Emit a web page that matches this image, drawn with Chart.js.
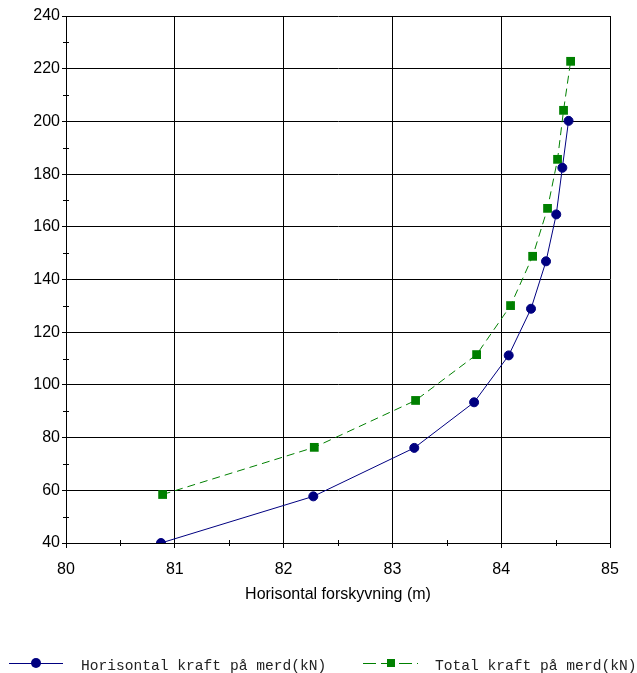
<!DOCTYPE html>
<html><head><meta charset="utf-8">
<script src="https://cdn.jsdelivr.net/npm/chart.js@4/dist/chart.umd.min.js"></script>
<style>
html,body{margin:0;padding:0;background:#fff;width:637px;height:673px;overflow:hidden}
#wrap{position:absolute;left:0;top:0;width:637px;height:673px}
#legend{position:absolute;left:0;top:0;width:637px;height:673px;pointer-events:none}
.lt{position:absolute;top:656px;height:20px;line-height:20px;white-space:nowrap;font-family:"Liberation Mono","Courier New",monospace;font-size:14.6px;color:#222}
.ls{position:absolute;top:653px}
</style></head><body>
<div id="wrap"><canvas id="c" width="637" height="673"></canvas></div>
<div id="legend"></div>
<script>
const seriesNames = ["Horisontal kraft på merd(kN)", "Total kraft på merd(kN)"];
const horisontalX = [80.873, 82.273, 83.201, 83.751, 84.069, 84.274, 84.412, 84.506, 84.562, 84.619];
const horisontalY = [40.0, 57.7, 76.1, 93.4, 111.2, 128.9, 146.9, 164.7, 182.4, 200.2];
const totalX = [80.888, 82.282, 83.213, 83.774, 84.086, 84.289, 84.426, 84.518, 84.573, 84.638];
const totalY = [58.4, 76.3, 94.1, 111.5, 130.1, 148.8, 167.0, 185.6, 204.2, 222.8];
const xTicks = [80, 81, 82, 83, 84, 85];
const yTicks = [40, 60, 80, 100, 120, 140, 160, 180, 200, 220, 240];
const xTitle = "Horisontal forskyvning (m)";

const pts = (xs, ys) => xs.map((x, i) => ({x: x, y: ys[i]}));

const minorTicks = {
  id: 'minorTicks',
  afterDraw(chart) {
    const ctx = chart.ctx, xs = chart.scales.x, ys = chart.scales.y;
    ctx.save();
    ctx.strokeStyle = '#000'; ctx.lineWidth = 1;
    ctx.beginPath();
    for (let i = 0; i < xTicks.length - 1; i++) {
      const v = (xTicks[i] + xTicks[i + 1]) / 2;
      const px = Math.round(xs.getPixelForValue(v)) + 0.5;
      ctx.moveTo(px, ys.bottom - 3); ctx.lineTo(px, ys.bottom + 3);
    }
    for (let i = 0; i < yTicks.length - 1; i++) {
      const v = (yTicks[i] + yTicks[i + 1]) / 2;
      const py = Math.round(ys.getPixelForValue(v)) + 0.5;
      ctx.moveTo(xs.left - 3, py); ctx.lineTo(xs.left + 3, py);
    }
    ctx.stroke();
    ctx.restore();
  }
};

Chart.defaults.font.family = '"Liberation Sans", Arial, sans-serif';
Chart.defaults.color = '#000';

new Chart(document.getElementById('c'), {
  type: 'scatter',
  data: {
    datasets: [
      {
        label: seriesNames[0],
        data: pts(horisontalX, horisontalY),
        showLine: true,
        borderColor: '#000080',
        backgroundColor: '#000080',
        borderWidth: 1,
        pointStyle: 'circle',
        pointRadius: 4.5,
        pointBorderWidth: 1,
        pointHoverRadius: 4.5,
        tension: 0
      },
      {
        label: seriesNames[1],
        data: pts(totalX, totalY),
        showLine: true,
        borderColor: '#008000',
        backgroundColor: '#008000',
        borderWidth: 1,
        borderDash: [8, 5],
        pointStyle: 'rect',
        pointRadius: 6.2,
        pointBorderWidth: 0,
        pointHoverRadius: 6.2,
        tension: 0
      }
    ]
  },
  options: {
    responsive: false,
    animation: false,
    events: [],
    layout: {padding: {top: 16, right: 27, bottom: 69, left: 0}},
    plugins: {legend: {display: false}, tooltip: {enabled: false}},
    scales: {
      x: {
        type: 'linear', min: 80, max: 85,
        afterBuildTicks(s) { s.ticks = xTicks.map(v => ({value: v})); },
        afterFit(s) { s.height = 61; },
        ticks: {stepSize: 1, padding: 12, font: {size: 16}, color: '#000'},
        grid: {color: '#000', lineWidth: 1, tickLength: 5, drawTicks: true},
        border: {color: '#000', width: 1},
        title: {display: true, text: xTitle, font: {size: 16}, color: '#000', padding: {top: 0, bottom: 0}}
      },
      y: {
        type: 'linear', min: 40, max: 240,
        afterBuildTicks(s) { s.ticks = yTicks.map(v => ({value: v})); },
        afterFit(s) { s.width = 66; },
        ticks: {stepSize: 20, padding: 2, font: {size: 16}, color: '#000'},
        grid: {color: '#000', lineWidth: 1, tickLength: 4, drawTicks: true},
        border: {color: '#000', width: 1}
      }
    }
  },
  plugins: [minorTicks]
});

// HTML legend
const legend = document.getElementById('legend');
const legendItems = [
  {name: seriesNames[0], color: '#000080', dash: '', marker: 'circle', lineX: 9, lineW: 54, markX: 27, textX: 81},
  {name: seriesNames[1], color: '#008000', dash: '13,5', marker: 'rect', lineX: 363, lineW: 55, markX: 28, textX: 435}
];
legendItems.forEach(it => {
  const s = document.createElement('div');
  s.className = 'ls';
  s.style.left = it.lineX + 'px';
  const mk = it.marker === 'circle'
    ? `<circle cx="${it.markX}" cy="10" r="5" fill="${it.color}"/>`
    : `<rect x="${it.markX - 4}" y="6" width="8" height="8" fill="${it.color}"/>`;
  s.innerHTML = `<svg width="${it.lineW}" height="20"><line x1="0" y1="10.5" x2="${it.lineW}" y2="10.5" stroke="${it.color}" stroke-width="1.2" ${it.dash ? 'stroke-dasharray="' + it.dash + '"' : ''}/>${mk}</svg>`;
  legend.appendChild(s);
  const t = document.createElement('div');
  t.className = 'lt';
  t.style.left = it.textX + 'px';
  t.textContent = it.name;
  legend.appendChild(t);
});
</script>
</body></html>
